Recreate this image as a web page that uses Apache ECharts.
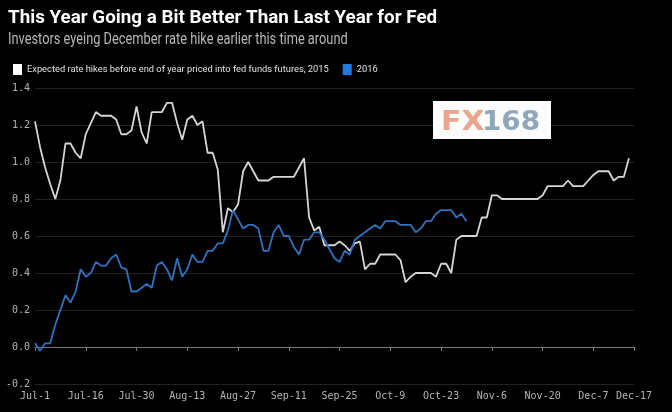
<!DOCTYPE html>
<html>
<head>
<meta charset="utf-8">
<script src="https://cdn.jsdelivr.net/npm/echarts@6/dist/echarts.min.js"></script>
<style>
  html, body { margin: 0; padding: 0; background: #000; }
  #chart { width: 672px; height: 412px; }
</style>
</head>
<body>
<div id="chart"></div>
<script>
// trading-day index -> tick label
const tickIdx = [0, 10, 20, 30, 40, 50, 60, 70, 80, 90, 100, 110, 118]
const tickLabels = ['Jul-1', 'Jul-16', 'Jul-30', 'Aug-13', 'Aug-27', 'Sep-11', 'Sep-25', 'Oct-9', 'Oct-23', 'Nov-6', 'Nov-20', 'Dec-7', 'Dec-17']

// expected hikes priced in, one value per trading day
const hikes2015 = [
  1.22, 1.08, 0.97, 0.88, 0.80, 0.90, 1.10, 1.10, 1.05, 1.02,
  1.15, 1.21, 1.27, 1.25, 1.25, 1.25, 1.23, 1.15, 1.15, 1.17,
  1.30, 1.16, 1.10, 1.27, 1.27, 1.27, 1.32, 1.32, 1.21, 1.12,
  1.23, 1.25, 1.20, 1.22, 1.05, 1.05, 0.96, 0.62, 0.75, 0.73,
  0.77, 0.95, 1.00, 0.95, 0.90, 0.90, 0.90, 0.92, 0.92, 0.92,
  0.92, 0.92, 0.97, 1.02, 0.70, 0.63, 0.65, 0.55, 0.55, 0.55,
  0.57, 0.55, 0.52, 0.56, 0.57, 0.42, 0.45, 0.45, 0.50, 0.50,
  0.50, 0.50, 0.47, 0.35, 0.38, 0.40, 0.40, 0.40, 0.40, 0.38,
  0.45, 0.45, 0.40, 0.58, 0.60, 0.60, 0.60, 0.60, 0.70, 0.70,
  0.82, 0.82, 0.80, 0.80, 0.80, 0.80, 0.80, 0.80, 0.80, 0.80,
  0.82, 0.87, 0.87, 0.87, 0.87, 0.90, 0.87, 0.87, 0.87, 0.90,
  0.93, 0.95, 0.95, 0.95, 0.90, 0.92, 0.92, 1.02
]
const hikes2016 = [
  0.02, -0.02, 0.02, 0.02, 0.12, 0.20, 0.28, 0.24, 0.30, 0.42,
  0.38, 0.40, 0.46, 0.44, 0.44, 0.48, 0.50, 0.43, 0.42, 0.30,
  0.30, 0.32, 0.34, 0.32, 0.44, 0.46, 0.42, 0.36, 0.48, 0.38,
  0.42, 0.50, 0.46, 0.46, 0.52, 0.52, 0.56, 0.56, 0.63, 0.74,
  0.69, 0.64, 0.66, 0.66, 0.64, 0.52, 0.52, 0.62, 0.66, 0.60,
  0.60, 0.54, 0.50, 0.58, 0.58, 0.62, 0.62, 0.58, 0.53, 0.48,
  0.46, 0.52, 0.50, 0.58, 0.60, 0.62, 0.64, 0.66, 0.64, 0.68,
  0.68, 0.68, 0.66, 0.66, 0.66, 0.62, 0.64, 0.68, 0.68, 0.72,
  0.74, 0.74, 0.74, 0.70, 0.72, 0.68
]

const NAME_2015 = 'Expected rate hikes before end of year priced into fed funds futures, 2015'
const NAME_2016 = '2016'
const SANS = "Roboto, 'Liberation Sans', sans-serif"
const MONO = "'DejaVu Sans Mono', monospace"

const chart = echarts.init(document.getElementById('chart'))

chart.setOption({
  backgroundColor: '#000',
  animation: false,
  legend: {
    left: 8, top: 59,
    icon: 'rect', itemWidth: 9, itemHeight: 11, itemGap: 14,
    textStyle: { color: '#e0e0e0', fontSize: 9.3, fontFamily: SANS },
    data: [
      { name: NAME_2015, itemStyle: { color: '#fff' } },
      { name: NAME_2016, itemStyle: { color: '#1f7be0' } },
    ],
  },
  grid: { left: 35, right: 38, top: 88, bottom: 28 },
  xAxis: {
    type: 'value', min: 0, max: 118, interval: 10,
    axisLine: { lineStyle: { color: '#777' } },
    axisTick: { show: true, length: 4, lineStyle: { color: '#777' } },
    axisLabel: {
      color: '#b4b4b4', fontSize: 10, fontFamily: MONO, margin: 7,
      formatter: v => {
        const i = tickIdx.indexOf(Math.round(v))
        return i >= 0 ? tickLabels[i] : ''
      },
    },
    splitLine: { show: false },
  },
  yAxis: {
    type: 'value', min: -0.2, max: 1.4, interval: 0.2,
    axisLine: { show: false },
    axisTick: { show: false },
    axisLabel: { color: '#b4b4b4', fontSize: 10, fontFamily: MONO, margin: 5, formatter: v => v.toFixed(1) },
    splitLine: { lineStyle: { color: '#222', width: 1 } },
  },
  graphic: [
    // headline + subhead
    { type: 'text', x: 8, y: 9, scaleX: 0.99,
      style: { text: 'This Year Going a Bit Better Than Last Year for Fed', fill: '#fff', font: `bold 19px ${SANS}` } },
    { type: 'text', x: 8, y: 32, scaleX: 0.8,
      style: { text: 'Investors eyeing December rate hike earlier this time around', fill: '#b8b8b8', font: `16px ${SANS}` } },
    // FX168 watermark, sits above the grid lines
    { type: 'rect', z: 100, left: 433, top: 101, shape: { width: 118, height: 38 }, style: { fill: '#fcfcfc' } },
    { type: 'text', z: 101, x: 441, y: 110, scaleX: 1.15, style: { text: 'FX', fill: '#e9a58d', font: "bold 26px 'DejaVu Sans'" } },
    { type: 'text', z: 101, x: 482, y: 110, scaleX: 1.07, style: { text: '168', fill: '#8fa7bc', font: "bold 26px 'DejaVu Sans'" } },
  ],
  series: [
    {
      name: NAME_2015, type: 'line', symbol: 'none',
      data: hikes2015.map((v, i) => [i, v]),
      lineStyle: { color: '#d6d6d6', width: 1.8 },
      itemStyle: { color: '#fff' },
    },
    {
      name: NAME_2016, type: 'line', symbol: 'none',
      data: hikes2016.map((v, i) => [i, v]),
      lineStyle: { color: '#2f72bf', width: 1.8 },
      itemStyle: { color: '#1f7be0' },
    },
  ],
})
</script>
</body>
</html>
